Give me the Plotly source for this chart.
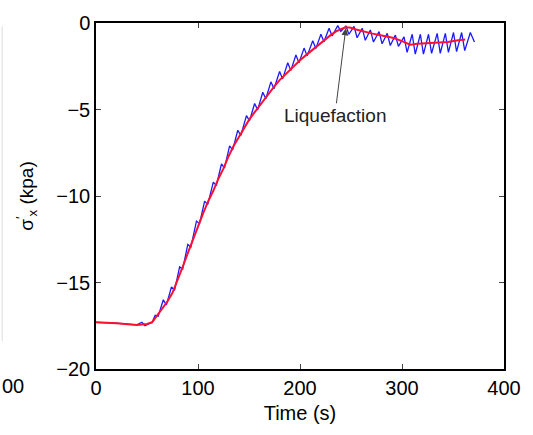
import plotly.graph_objects as go

# Smoothed (red) response
red_t = [0, 20, 40, 50, 55, 60, 65, 70, 75, 80, 85, 90, 95, 100, 105, 110, 115, 120, 125, 130,
         135, 140, 145, 150, 155, 160, 165, 170, 175, 180, 185, 190, 195, 200, 205, 210, 215,
         220, 225, 230, 235, 240, 245, 250, 255, 262, 270, 280, 292, 300, 305, 308, 315, 325,
         334, 345, 355, 362]
red_v = [-17.3, -17.35, -17.45, -17.4, -17.3, -16.9, -16.5, -16.1, -15.6, -14.9, -14.1, -13.3,
         -12.5, -11.7, -11.0, -10.3, -9.7, -9.0, -8.4, -7.7, -7.1, -6.6, -6.1, -5.6, -5.2, -4.8,
         -4.4, -4.0, -3.65, -3.3, -3.0, -2.7, -2.4, -2.15, -1.9, -1.65, -1.4, -1.15, -0.9, -0.7,
         -0.5, -0.35, -0.25, -0.28, -0.38, -0.5, -0.6, -0.72, -0.87, -1.05, -1.2, -1.25, -1.2,
         -1.18, -1.16, -1.1, -1.0, -0.95]

# Raw (blue) oscillating response
blue_t = [0, 20, 40, 45, 48, 52, 55,
          58, 61, 66, 69, 74, 77, 82, 85, 90, 93, 98.5, 101.5, 106.5, 109.5,
          115, 118, 123, 126, 131, 134, 139, 142, 147.5, 150.5, 155.5, 158.5,
          163.5, 166.5, 171.5, 174.5, 180, 183, 188, 191, 196, 199, 204, 207,
          212.5, 215.5, 220.5, 223.5, 228.5, 231.5, 237, 240, 245, 248,
          253, 256, 261, 264, 269, 272, 277.5, 280.5, 285.5, 288.5, 293.5, 296.5,
          302, 305, 310, 313, 318, 321, 326, 329, 334.5, 337.5, 342.5, 345.5,
          350.5, 353.5, 358.5, 361.5, 367, 371]
blue_v = [-17.3, -17.35, -17.45, -17.3, -17.5, -17.4, -17.3,
          -16.9, -16.95, -16.0, -16.3, -15.25, -15.45, -14.1, -14.22, -12.8, -12.95,
          -11.45, -11.6, -10.3, -10.5,
          -9.2, -9.4, -8.15, -8.38, -7.1, -7.33, -6.2, -6.5, -5.35, -5.66, -4.65, -5.02,
          -4.0, -4.38, -3.4, -3.8, -2.8, -3.23, -2.3, -2.75, -1.85, -2.3, -1.45, -1.9,
          -1.03, -1.48, -0.65, -1.08, -0.3, -0.75, -0.15, -0.48, -0.18, -0.65,
          -0.2, -0.85, -0.3, -1.0, -0.4, -1.1, -0.5, -1.2, -0.6, -1.3, -0.7, -1.35,
          -0.8, -1.7, -0.65, -1.8, -0.65, -1.8, -0.65, -1.75, -0.6, -1.75, -0.6, -1.7,
          -0.55, -1.65, -0.55, -1.6, -0.55, -1.1]

x_ticks = [0, 100, 200, 300, 400]
y_ticks = [0, -5, -10, -15, -20]

font = "Liberation Sans, Arial, sans-serif"

fig = go.Figure()
fig.add_trace(go.Scatter(x=blue_t, y=blue_v, mode="lines",
                         line=dict(color="#1a1aff", width=1.3), showlegend=False))
fig.add_trace(go.Scatter(x=red_t, y=red_v, mode="lines",
                         line=dict(color="#ff1030", width=2), showlegend=False))

fig.add_annotation(x=245, y=-0.25, xref="x", yref="y", text="Liquefaction",
                   showarrow=True, ax=-11, ay=88, arrowhead=2, arrowsize=1.4,
                   arrowwidth=1, arrowcolor="#444444", standoff=1,
                   font=dict(family=font, size=19, color="#222"))

# partial tick label of neighbouring panel
fig.add_annotation(x=-0.235, y=-0.048, xref="paper", yref="paper", text="00",
                   showarrow=False, font=dict(family=font, size=20, color="black"),
                   xanchor="left", yanchor="middle")
fig.add_shape(type="line", xref="paper", yref="paper", x0=-0.23, x1=-0.23,
              y0=0.08, y1=0.99, line=dict(color="#dddddd", width=1))

fig.update_layout(
    width=533, height=435,
    margin=dict(l=96, r=29, t=18, b=66),
    plot_bgcolor="white", paper_bgcolor="white",
    font=dict(family=font, size=20, color="black"),
)
fig.update_xaxes(range=[0, 400], tickvals=x_ticks, ticks="inside", ticklen=5,
                 showline=True, linecolor="black", linewidth=1.5, mirror="ticks",
                 showgrid=False, zeroline=False,
                 title=dict(text="Time (s)", font=dict(size=20), standoff=8),
                 tickfont=dict(size=20))
fig.update_yaxes(range=[-20, 0], tickvals=y_ticks, ticks="inside", ticklen=5,
                 showline=True, linecolor="black", linewidth=1.5, mirror="ticks",
                 showgrid=False, zeroline=False,
                 title=dict(text="σ<sup>′</sup><sub>x</sub> (kpa)", font=dict(size=19), standoff=18),
                 tickfont=dict(size=20))

fig.write_html("out.html")
